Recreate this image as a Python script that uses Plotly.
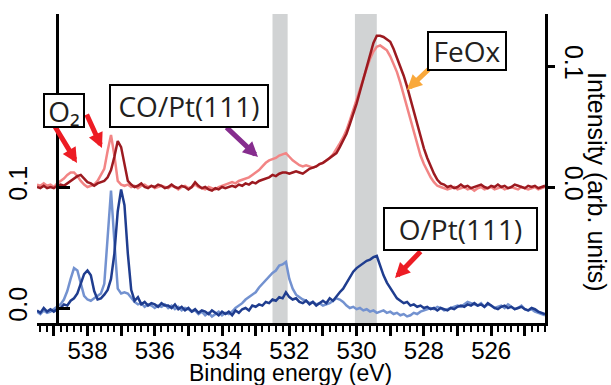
import numpy as np
import plotly.graph_objects as go

# Binding energy grid (eV), 0.1 eV steps from 539.5 down to 524.4
energy = np.round(np.arange(539.5, 524.35, -0.1), 1)

# Intensities in units of 1e-3 (arb. units)
pt_o2_milli = [  # dark blue, left axis
    -2, -4, 0, -3, -1, -3, -1,
    0, 3, 2, 6, 8, 12, 20, 28, 31, 27,
    14, 7, 8, 11, 15, 24, 45, 80, 98, 85,
    45, 15, 6, 9, 3, 5, 2, 4, 3, 1,
    4, 2, 2, 0, 3, -1, 1, -2, 0, -3,
    -1, -4, -2, -3, -5, -2, -4, -6, -3, -5,
    -3, -6, -2, -4, -1, 0, -2, 2, 1, 3,
    2, 5, 4, 7, 6, 9, 8, 13, 9, 7,
    8, 5, 4, 6, 3, 5, 2, 4, 6, 4,
    8, 6, 10, 13, 16, 21, 26, 30, 33, 35,
    37, 39, 40, 42, 43, 35, 27, 21, 17, 12,
    8, 6, 4, 5, 2, 3, 1, 2, 0, 1,
    -1, 0, -2, 0, -1, -2, 0, -1, 1, 2,
    1, 3, 2, 4, 2, 3, 1, 4, 2, 0,
    -1, 1, 2, 0, 1, -1, 0, 1, -1, -2,
    0, -1, -3, -4, -5,
]
pt_co_milli = [  # light blue, left axis
    -3, -5, -2, -4, -3, -1, 1,
    3, 7, 14, 24, 33, 31, 20, 10, 7, 6,
    8, 10, 12, 20, 60, 97, 55, 16, 12, 13,
    12, 8, 5, 3, 4, 1, 3, 2, 0, 2,
    1, 3, 0, 2, -1, 1, -2, 0, -1, -3,
    -2, -5, -3, -6, -4, -7, -5, -3, -6, -4,
    -5, -3, 0, 2, 4, 7, 9, 11, 13, 17,
    20, 23, 26, 29, 31, 35, 36, 38, 24, 16,
    11, 9, 7, 6, 4, 5, 3, 4, 2, 3,
    4, 6, 8, 7, 5, 2, 0, 1, -1, 0,
    -2, -1, -3, -2, -4, -3, -2, -4, -3, -5,
    -4, -6, -5, -7, -6, -4, -5, -3, -2, -1,
    0, -1, 1, 0, -2, -1, 0, 1, 2, 1,
    3, 5, 4, 3, 2, 4, 1, 3, 2, 0,
    1, 2, 0, 3, 1, -1, 0, 2, -1, -2,
    -1, -3, -4, -5, -6,
]
feox_o2_milli = [  # dark red, right axis
    0, -1, 1, -1, 0, -1, 1,
    2, 1, 3, 5, 7, 9, 10, 7, 4, 3,
    1, 3, 4, 5, 8, 14, 25, 38, 33, 18,
    5, 2, 0, 1, 3, 0, -1, 1, 0, 2,
    1, -1, 0, 2, 0, -1, 1, 0, -2, 0,
    4, 1, -1, 0, -2, -3, -1, -2, 0, -1,
    0, 1, 0, 2, 1, 3, 2, 4, 3, 5,
    6, 7, 8, 10, 9, 11, 12, 12, 11, 12,
    13, 12, 11, 13, 15, 16, 17, 19, 20, 22,
    24, 26, 28, 33, 38, 44, 52, 60, 69, 79,
    89, 99, 110, 119, 125, 125, 124, 122, 120, 114,
    107, 100, 92, 83, 73, 62, 51, 41, 32, 24,
    17, 11, 6, 3, 2, 0, 1, -1, 0, 2,
    0, 1, -1, 0, 1, 2, 0, -1, 1, 0,
    2, 0, 1, -1, 0, 2, 1, 0, -1, 1,
    0, 1, -1, 0, 1,
]
feox_co_milli = [  # light red, right axis
    2, 1, 3, 1, 2, 0, 3,
    5, 7, 10, 12, 12, 9, 5, 2, 0, 1,
    2, 5, 10, 15, 30, 43, 26, 5, 2, 1,
    2, 0, 1, -1, 1, 2, 0, 1, -1, 0,
    1, 0, -1, 1, 0, -2, 0, 1, -1, 0,
    2, 0, -1, -2, 0, -1, -2, 0, 1, 2,
    3, 4, 3, 5, 6, 7, 8, 10, 12, 14,
    17, 20, 22, 23, 24, 26, 27, 28, 25, 22,
    20, 18, 17, 18, 17, 16, 17, 19, 20, 22,
    24, 27, 31, 36, 41, 47, 55, 64, 72, 81,
    89, 98, 106, 112, 116, 117, 115, 113, 108, 102,
    95, 86, 76, 65, 54, 44, 34, 26, 19, 13,
    8, 4, 1, 0, -1, -2, -1, 0, -2, -1,
    0, -2, -1, -3, -1, 0, -2, -1, 0, -2,
    -1, 0, -2, -1, 0, -1, -2, 0, -1, -2,
    -1, 0, -2, -1, 0,
]

# shaded reference bands (eV)
bands = [(532.5, 532.05), (530.05, 529.4)]

x_tick_vals = list(range(525, 540))
x_tick_text = [str(v) if v % 2 == 0 else "" for v in x_tick_vals]
y_tick_vals = [0.0, 0.1]
y_tick_text = ["0.0", "0.1"]

series = [
    ("Pt(111) + CO", pt_co_milli, "#7392d0", "y"),
    ("Pt(111) + O2", pt_o2_milli, "#1f3d8f", "y"),
    ("FeOx/Pt(111) + CO", feox_co_milli, "#f28585", "y2"),
    ("FeOx/Pt(111) + O2", feox_o2_milli, "#9c1a20", "y2"),
]

fig = go.Figure()
for name, vals, color, yax in series:
    assert len(vals) == len(energy), (name, len(vals))
    fig.add_trace(go.Scatter(
        x=energy, y=np.array(vals) / 1000.0, name=name, mode="lines",
        line=dict(color=color, width=2.5), yaxis=yax, showlegend=False,
    ))

for lo, hi in bands:
    fig.add_shape(type="rect", xref="x", yref="paper", x0=lo, x1=hi, y0=0, y1=1,
                  fillcolor="#d1d3d4", line_width=0, layer="below")

L, R, T, B = 37, 66, 14, 62
W, H = 611, 385
PW, PH = W - L - R, H - T - B


def pxx(p):
    return (p - L) / PW


def pxy(p):
    return (H - B - p) / PH


tick_font = dict(family="Liberation Sans, Arial", size=25, color="black")
xtick_font = dict(family="Liberation Sans, Arial", size=24, color="black")
title_font = dict(family="Liberation Sans, Arial", size=23, color="black")

fig.update_layout(
    width=W, height=H, margin=dict(l=L, r=R, t=T, b=B, autoexpand=False),
    plot_bgcolor="white", paper_bgcolor="white",
    xaxis=dict(
        range=[539.5, 524.4], tickmode="array", tickvals=x_tick_vals, ticktext=x_tick_text,
        ticks="outside", ticklen=10, tickwidth=2.5, tickcolor="black",
        minor=dict(dtick=0.2, ticks="outside", ticklen=6, tickwidth=2, tickcolor="black"),
        showline=True, linewidth=3, linecolor="black", showgrid=False, zeroline=False,
        tickfont=xtick_font, automargin=False, ticklabelstandoff=-6,
    ),
    yaxis=dict(
        range=[-0.0124, 0.243], anchor="free", position=pxx(57),
        tickmode="array", tickvals=y_tick_vals, ticktext=y_tick_text,
        ticks="inside", ticklen=11, tickwidth=2.5, tickcolor="black", tickangle=-90,
        ticklabelstandoff=19, automargin=False,
        showline=True, linewidth=3, linecolor="black", showgrid=False, zeroline=False,
        tickfont=tick_font,
    ),
    yaxis2=dict(
        range=[-0.1124, 0.143], overlaying="y", side="right", anchor="x",
        tickmode="array", tickvals=y_tick_vals, ticktext=y_tick_text,
        ticks="outside", ticklen=7, tickwidth=2.5, tickcolor="black", tickangle=90,
        showline=True, linewidth=3, linecolor="black", showgrid=False, zeroline=False,
        tickfont=tick_font, automargin=False,
    ),
)

ann_font = dict(family="Open Sans", size=28, color="#231f20")
boxes = [
    ("O₂", 64, 110.5, 42, 35),
    ("CO/Pt(111)", 189, 106, 160, 44),
    ("FeOx", 467, 51, 80, 40),
    ("O/Pt(111)", 460.5, 229, 155, 44),
]
arrows = [
    ((54, 125), (77, 163), "#ed1c24"),
    ((86, 113), (102, 148), "#ed1c24"),
    ((225, 126), (258, 157), "#862d8e"),
    ((430, 68), (407, 90), "#f9a83b"),
    ((422, 250), (395, 278), "#ed1c24"),
]
for (tx, ty), (hx, hy), col in arrows:
    fig.add_annotation(text="", xref="paper", yref="paper", x=pxx(hx), y=pxy(hy),
                       ax=tx - hx, ay=ty - hy, showarrow=True, arrowhead=2,
                       arrowsize=0.6, arrowwidth=5, arrowcolor=col, standoff=0,
                       font=dict(size=1))
for text, cx, cy, bw, bh in boxes:
    fig.add_annotation(text=text, xref="paper", yref="paper", x=pxx(cx), y=pxy(cy),
                       xanchor="center", yanchor="middle", showarrow=False,
                       font=ann_font, bgcolor="white", bordercolor="black",
                       borderwidth=2, borderpad=0, width=bw - 4, height=bh - 4)

# axis titles
fig.add_annotation(text="Binding energy (eV)", xref="paper", yref="paper",
                   x=pxx(290), y=pxy(387), showarrow=False,
                   xanchor="center", yanchor="bottom", borderpad=0, font=title_font)
fig.add_annotation(text="Intensity (arb. units)", xref="paper", yref="paper",
                   x=pxx(597), y=pxy(182), textangle=90, showarrow=False,
                   xanchor="center", yanchor="middle", font=tick_font)

fig.write_html("out.html")
